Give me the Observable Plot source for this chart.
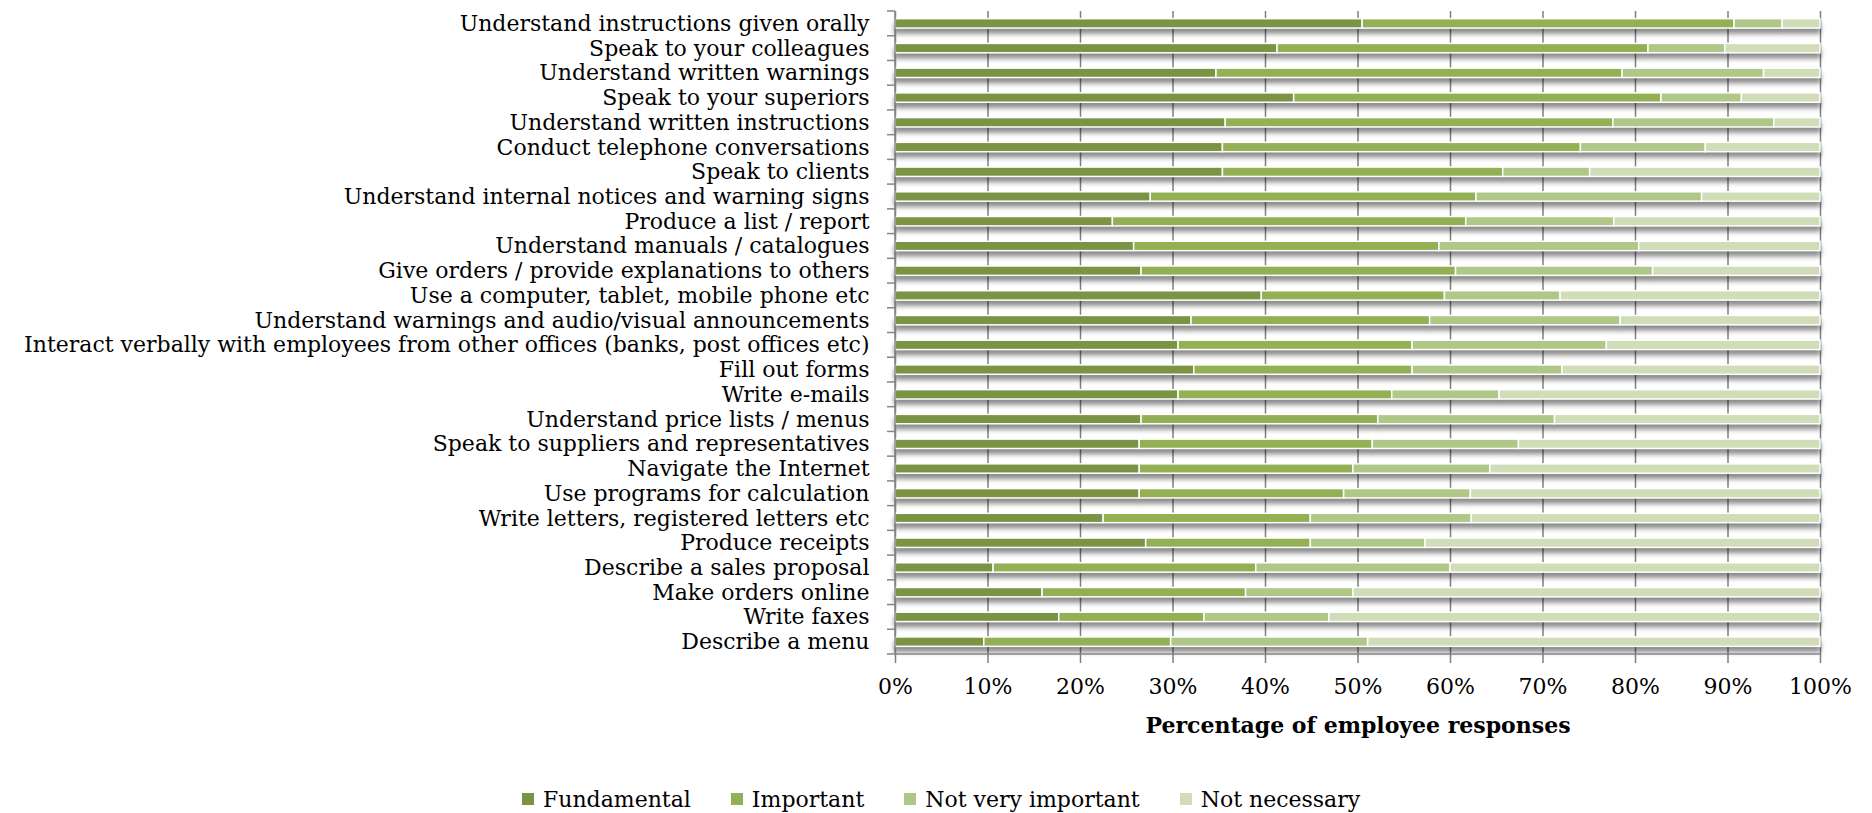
<!DOCTYPE html>
<html>
<head>
<meta charset="utf-8">
<script src="https://cdn.jsdelivr.net/npm/d3@7"></script>
<script src="https://cdn.jsdelivr.net/npm/@observablehq/plot@0.6"></script>
<style>
  html, body { margin: 0; padding: 0; background: #fff; }
  body { width: 1872px; height: 813px; overflow: hidden; font-family: "DejaVu Serif", serif; }
  #chart svg { display: block; }
  #legend { display: flex; align-items: center; margin-top: 25px; padding-left: 522px; height: 28px; font-size: 22px; color: #000; }
  .item { display: flex; align-items: center; margin-right: 40px; white-space: nowrap; }
  .swatch { width: 12px; height: 12px; margin-right: 9px; }
</style>
</head>
<body>
<div id="chart"></div>
<div id="legend"></div>
<script>
const categories = [
  "Understand instructions given orally",
  "Speak to your colleagues",
  "Understand written warnings",
  "Speak to your superiors",
  "Understand written instructions",
  "Conduct telephone conversations",
  "Speak to clients",
  "Understand internal notices and warning signs",
  "Produce a list / report",
  "Understand manuals / catalogues",
  "Give orders / provide explanations to others",
  "Use a computer, tablet, mobile phone etc",
  "Understand warnings and audio/visual announcements",
  "Interact verbally with employees from other offices (banks, post offices etc)",
  "Fill out forms",
  "Write e-mails",
  "Understand price lists / menus",
  "Speak to suppliers and representatives",
  "Navigate the Internet",
  "Use programs for calculation",
  "Write letters, registered letters etc",
  "Produce receipts",
  "Describe a sales proposal",
  "Make orders online",
  "Write faxes",
  "Describe a menu"
];
const fundamental      = [50.5, 41.3, 34.7, 43.1, 35.7, 35.4, 35.4, 27.6, 23.5, 25.8, 26.6, 39.6, 32.0, 30.6, 32.3, 30.6, 26.6, 26.4, 26.4, 26.4, 22.5, 27.1, 10.6, 15.9, 17.7, 9.6];
const important        = [40.2, 40.1, 43.9, 39.7, 41.9, 38.7, 30.3, 35.2, 38.2, 33.0, 34.0, 19.8, 25.8, 25.3, 23.6, 23.1, 25.6, 25.2, 23.1, 22.1, 22.4, 17.8, 28.4, 22.0, 15.7, 20.2];
const notVeryImportant = [5.2, 8.3, 15.3, 8.7, 17.4, 13.5, 9.4, 24.4, 16.0, 21.6, 21.3, 12.5, 20.6, 21.0, 16.2, 11.6, 19.1, 15.8, 14.8, 13.7, 17.4, 12.4, 21.0, 11.6, 13.5, 21.3];
const notNecessary     = [4.1, 10.3, 6.1, 8.5, 5.0, 12.4, 24.9, 12.8, 22.3, 19.6, 18.1, 28.1, 21.6, 23.1, 27.9, 34.7, 28.7, 32.6, 35.7, 37.8, 37.7, 42.7, 40.0, 50.5, 53.1, 48.9];
const levels = ["Fundamental", "Important", "Not very important", "Not necessary"];
const colors = ["#7b9443", "#94b054", "#b0c887", "#d0ddb8"];
const xTicks = [0, 10, 20, 30, 40, 50, 60, 70, 80, 90, 100];
const axisTitle = "Percentage of employee responses";

const series = [fundamental, important, notVeryImportant, notNecessary];
const rows = categories.flatMap((c, i) =>
  levels.map((l, j) => ({category: c, level: l, value: series[j][i]}))
);

const plot = Plot.plot({
  width: 1872,
  height: 760,
  marginLeft: 895,
  marginRight: 52,
  marginTop: 11,
  marginBottom: 106,
  style: {fontFamily: '"DejaVu Serif", serif', fontSize: "22px", color: "#000", background: "#fff"},
  x: {domain: [0, 100], ticks: xTicks, tickFormat: d => d + "%", tickSize: 0, tickPadding: 24, label: null},
  y: {domain: categories, round: false, paddingInner: 0.62, paddingOuter: 0.31, tickSize: 0, tickPadding: 26, label: null},
  color: {domain: levels, range: colors},
  marks: [
    Plot.ruleX(xTicks, {stroke: "#7f7f7f", strokeWidth: 1.5, insetBottom: -9}),
    Plot.barX(rows, Plot.stackX({x: "value", y: "category", fill: "level", order: levels, stroke: "#ffffff", strokeWidth: 1.5})),
    Plot.text([axisTitle], {text: d => d, frameAnchor: "bottom", dy: 78, fontWeight: "bold", fontSize: 22, fill: "#000"})
  ]
});
document.getElementById("chart").appendChild(plot);

// bar shadows
const barG = plot.querySelector('g[aria-label="bar"]');
if (barG) barG.style.filter = "drop-shadow(0px 5px 2.5px rgba(0,0,0,0.45))";

// axis lines and category boundary ticks, from the plot's scales
const xs = plot.scale("x");
const ys = plot.scale("y");
const svg = d3.select(plot);
const x0 = xs.apply(0), x1 = xs.apply(100);
const [yTop, yBot] = ys.range;
const g = svg.append("g").attr("stroke", "#868686").attr("stroke-width", 1.5);
g.append("line").attr("x1", x0).attr("x2", x0).attr("y1", yTop).attr("y2", yBot);
g.append("line").attr("x1", x0).attr("x2", x1).attr("y1", yBot).attr("y2", yBot);
const boundaries = categories.map(c => ys.apply(c) - (ys.step - ys.bandwidth) / 2).concat([yBot]);
g.selectAll("line.bt").data(boundaries).join("line")
  .attr("class", "bt").attr("x1", x0 - 8).attr("x2", x0).attr("y1", d => d).attr("y2", d => d);

// legend
const legend = d3.select("#legend");
levels.forEach((l, i) => {
  const it = legend.append("div").attr("class", "item");
  it.append("div").attr("class", "swatch").style("background", colors[i]);
  it.append("span").text(l);
});
</script>
</body>
</html>
